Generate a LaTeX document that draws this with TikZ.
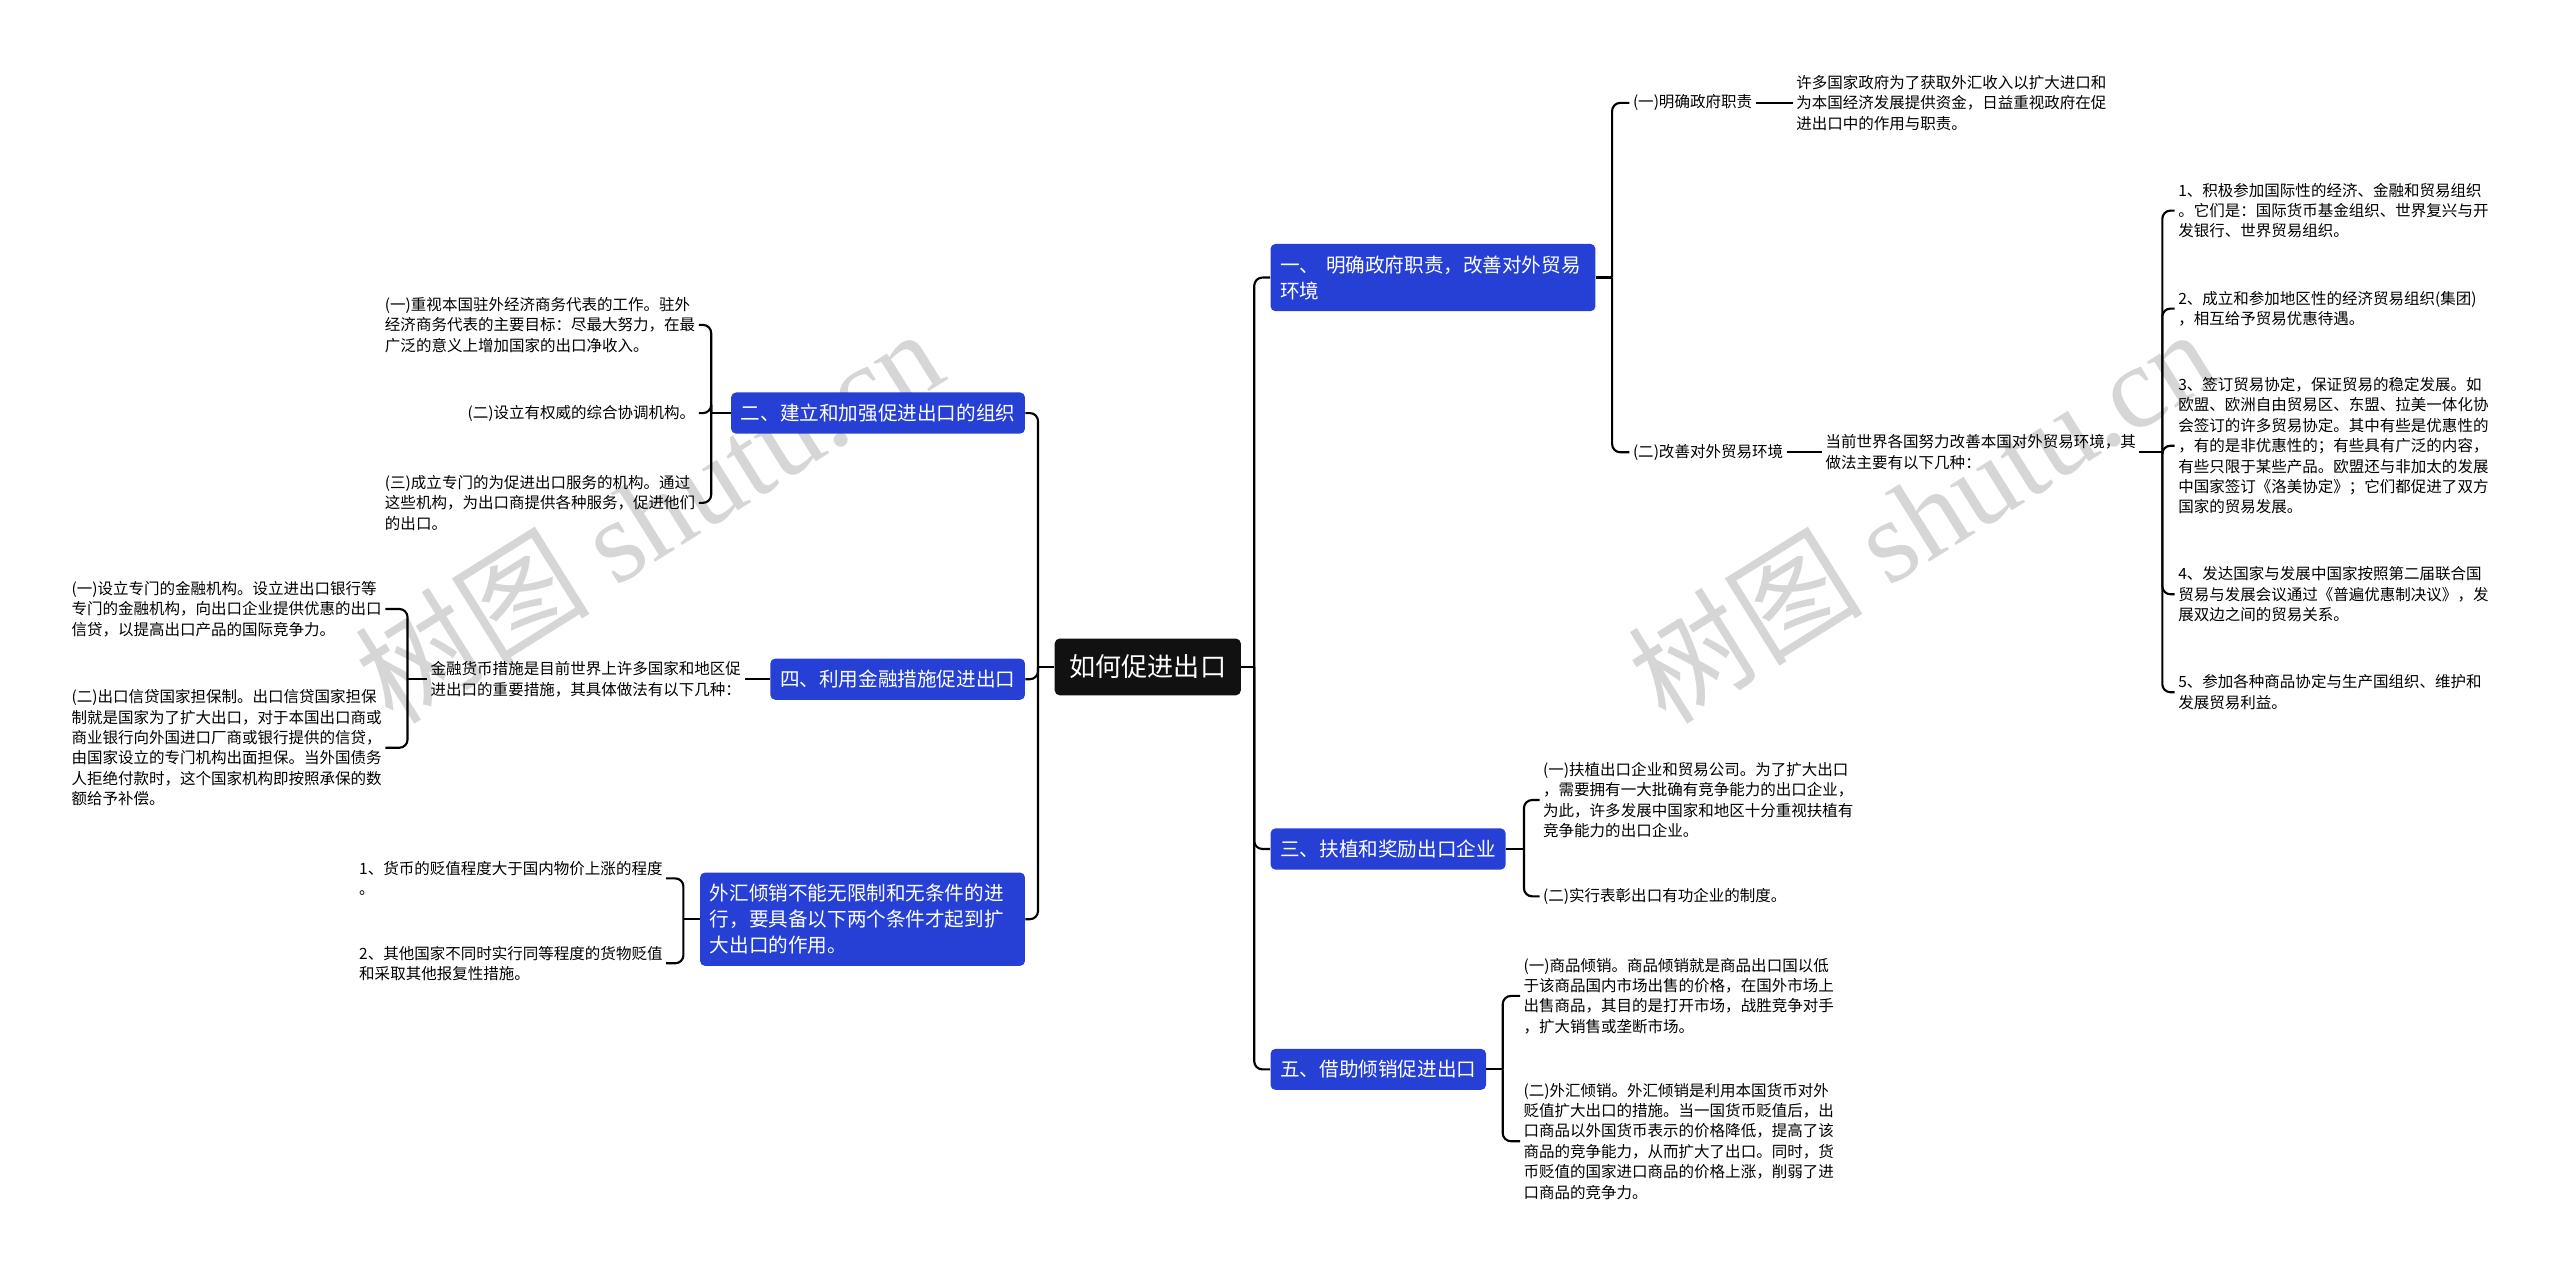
\documentclass[tikz,border=0pt]{standalone}
\usepackage{fontspec}
\setmainfont{Noto Sans CJK SC}
\newfontfamily\wmserif{Liberation Serif}
\usetikzlibrary{positioning}
\definecolor{topicblue}{RGB}{38,64,214}
\definecolor{rootblack}{RGB}{17,17,17}
\definecolor{markgray}{RGB}{214,214,214}

\begin{document}
\begin{tikzpicture}[x=1pt,y=-1pt,
    rootbox/.style={fill=rootblack,text=white,rounded corners=3pt,inner xsep=9pt,inner ysep=10pt,font=\fontsize{16}{20}\selectfont},
    topic/.style={fill=topicblue,text=white,rounded corners=3pt,inner xsep=6pt,inner ysep=7pt,align=left,font=\fontsize{12}{16}\selectfont},
    leaf/.style={inner sep=2pt,align=left,font=\fontsize{9.5}{12.5}\selectfont},
    link/.style={draw=black,line width=1.3pt,rounded corners=5pt},
    wmark/.style={text=markgray,rotate=32,font=\fontsize{72}{72}\selectfont}]
    \fill[white] (0,0) rectangle (1568,782);
    \useasboundingbox (0,0) rectangle (1568,782);
    \node[wmark] (wm1) at (397,315) {树图 {\wmserif shutu.cn}};
    \node[wmark] (wm2) at (1177,315) {树图 {\wmserif shutu.cn}};

    \node[rootbox] (root) at (703,408.5) {如何促进出口};

    \node[topic,anchor=west,text width=187pt] (b1) at (778,170) {一、 明确政府职责，改善对外贸易\\环境};
    \node[topic,anchor=west] (b3) at (778,520) {三、扶植和奖励出口企业};
    \node[topic,anchor=west] (b5) at (778,655) {五、借助倾销促进出口};
    \node[topic,anchor=east] (b2) at (628,253) {二、建立和加强促进出口的组织};
    \node[topic,anchor=east] (b4) at (628,416) {四、利用金融措施促进出口};
    \node[topic,anchor=east,text width=187pt] (b6) at (628,563) {外汇倾销不能无限制和无条件的进\\行，要具备以下两个条件才起到扩\\大出口的作用。};

    \node[leaf,anchor=west] (l1a) at (998,63) {(一)明确政府职责};
    \node[leaf,anchor=west] (t1a) at (1098,63) {许多国家政府为了获取外汇收入以扩大进口和\\为本国经济发展提供资金，日益重视政府在促\\进出口中的作用与职责。};
    \node[leaf,anchor=west] (l1b) at (998,277) {(二)改善对外贸易环境};
    \node[leaf,anchor=west] (t1b) at (1116,277) {当前世界各国努力改善本国对外贸易环境，其\\做法主要有以下几种：};
    \node[leaf,anchor=west] (i1) at (1332,129) {1、积极参加国际性的经济、金融和贸易组织\\。它们是：国际货币基金组织、世界复兴与开\\发银行、世界贸易组织。};
    \node[leaf,anchor=west] (i2) at (1332,189) {2、成立和参加地区性的经济贸易组织(集团)\\，相互给予贸易优惠待遇。};
    \node[leaf,anchor=west] (i3) at (1332,273) {3、签订贸易协定，保证贸易的稳定发展。如\\欧盟、欧洲自由贸易区、东盟、拉美一体化协\\会签订的许多贸易协定。其中有些是优惠性的\\，有的是非优惠性的；有些具有广泛的内容，\\有些只限于某些产品。欧盟还与非加太的发展\\中国家签订《洛美协定》；它们都促进了双方\\国家的贸易发展。};
    \node[leaf,anchor=west] (i4) at (1332,364) {4、发达国家与发展中国家按照第二届联合国\\贸易与发展会议通过《普遍优惠制决议》，发\\展双边之间的贸易关系。};
    \node[leaf,anchor=west] (i5) at (1332,424) {5、参加各种商品协定与生产国组织、维护和\\发展贸易利益。};

    \node[leaf,anchor=west] (l3a) at (943,490) {(一)扶植出口企业和贸易公司。为了扩大出口\\，需要拥有一大批确有竞争能力的出口企业，\\为此，许多发展中国家和地区十分重视扶植有\\竞争能力的出口企业。};
    \node[leaf,anchor=west] (l3b) at (943,549) {(二)实行表彰出口有功企业的制度。};
    \node[leaf,anchor=west] (l5a) at (931,610) {(一)商品倾销。商品倾销就是商品出口国以低\\于该商品国内市场出售的价格，在国外市场上\\出售商品，其目的是打开市场，战胜竞争对手\\，扩大销售或垄断市场。};
    \node[leaf,anchor=west] (l5b) at (931,699) {(二)外汇倾销。外汇倾销是利用本国货币对外\\贬值扩大出口的措施。当一国货币贬值后，出\\口商品以外国货币表示的价格降低，提高了该\\商品的竞争能力，从而扩大了出口。同时，货\\币贬值的国家进口商品的价格上涨，削弱了进\\口商品的竞争力。};

    \node[leaf,anchor=east] (l2a) at (428,199) {(一)重视本国驻外经济商务代表的工作。驻外\\经济商务代表的主要目标：尽最大努力，在最\\广泛的意义上增加国家的出口净收入。};
    \node[leaf,anchor=east] (l2b) at (428,253) {(二)设立有权威的综合协调机构。};
    \node[leaf,anchor=east] (l2c) at (428,308) {(三)成立专门的为促进出口服务的机构。通过\\这些机构，为出口商提供各种服务，促进他们\\的出口。};
    \node[leaf,anchor=east] (t4) at (456,416) {金融货币措施是目前世界上许多国家和地区促\\进出口的重要措施，其具体做法有以下几种：};
    \node[leaf,anchor=east] (l4a) at (236,373) {(一)设立专门的金融机构。设立进出口银行等\\专门的金融机构，向出口企业提供优惠的出口\\信贷，以提高出口产品的国际竞争力。};
    \node[leaf,anchor=east] (l4b) at (236,458) {(二)出口信贷国家担保制。出口信贷国家担保\\制就是国家为了扩大出口，对于本国出口商或\\商业银行向外国进口厂商或银行提供的信贷，\\由国家设立的专门机构出面担保。当外国债务\\人拒绝付款时，这个国家机构即按照承保的数\\额给予补偿。};
    \node[leaf,anchor=east] (l6a) at (408,538) {1、货币的贬值程度大于国内物价上涨的程度\\。};
    \node[leaf,anchor=east] (l6b) at (408,590) {2、其他国家不同时实行同等程度的货物贬值\\和采取其他报复性措施。};

    \coordinate (rs) at ([xshift=8pt]root.east);
    \coordinate (ls) at ([xshift=-10pt]root.west);
    \coordinate (s1) at ([xshift=10pt]b1.east);
    \coordinate (s1b) at ([xshift=14pt]t1b.east);
    \coordinate (s3) at ([xshift=11pt]b3.east);
    \coordinate (s5) at ([xshift=10pt]b5.east);
    \coordinate (s2) at ([xshift=-12pt]b2.west);
    \coordinate (s4) at ([xshift=-12pt]t4.west);
    \coordinate (s6) at ([xshift=-10pt]b6.west);

    \draw[link] (root.east) -- (rs);
    \draw[link] (root.west) -- (ls);
    \foreach \n in {b1,b3,b5} \draw[link] (rs) |- (\n.west);
    \foreach \n in {b2,b4,b6} \draw[link] (ls) |- (\n.east);
    \draw[link] (b1.east) -- (s1);
    \foreach \n in {l1a,l1b} \draw[link] (s1) |- (\n.west);
    \draw[link] (l1a) -- (t1a);
    \draw[link] (l1b) -- (t1b);
    \draw[link] (t1b.east) -- (s1b);
    \foreach \n in {i1,i2,i3,i4,i5} \draw[link] (s1b) |- (\n.west);
    \draw[link] (b3.east) -- (s3);
    \foreach \n in {l3a,l3b} \draw[link] (s3) |- (\n.west);
    \draw[link] (b5.east) -- (s5);
    \foreach \n in {l5a,l5b} \draw[link] (s5) |- (\n.west);
    \draw[link] (b2.west) -- (s2);
    \foreach \n in {l2a,l2b,l2c} \draw[link] (s2) |- (\n.east);
    \draw[link] (b4) -- (t4);
    \draw[link] (t4.west) -- (s4);
    \foreach \n in {l4a,l4b} \draw[link] (s4) |- (\n.east);
    \draw[link] (b6.west) -- (s6);
    \foreach \n in {l6a,l6b} \draw[link] (s6) |- (\n.east);
\end{tikzpicture}
\end{document}
